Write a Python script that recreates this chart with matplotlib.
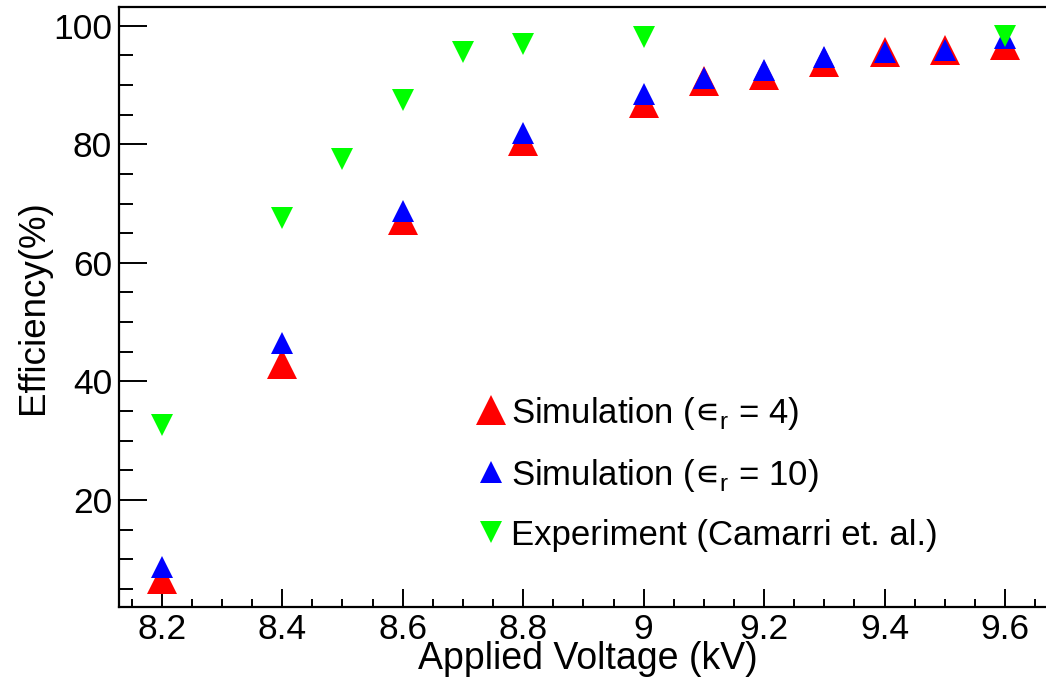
import numpy as np
import matplotlib
matplotlib.use('Agg')
import matplotlib.pyplot as plt
from matplotlib.ticker import MultipleLocator

plt.rcParams['font.family'] = ['Liberation Sans', 'DejaVu Sans']
plt.rcParams['mathtext.fontset'] = 'dejavusans'

# 模拟数据 (eps_r = 4, eps_r = 10) 与实验数据
v_sim = [8.2, 8.4, 8.6, 8.8, 9.0, 9.1, 9.2, 9.3, 9.4, 9.5, 9.6]
eff_sim4 = [6.6, 43.0, 67.2, 80.5, 87.0, 90.6, 91.7, 93.9, 95.6, 95.9, 96.8]
eff_sim10 = [8.7, 46.5, 68.8, 81.9, 88.4, 91.2, 92.6, 94.7, 95.6, 95.9, 98.0]

v_exp = [8.2, 8.4, 8.5, 8.6, 8.7, 8.8, 9.0, 9.6]
eff_exp = [32.6, 67.6, 77.5, 87.4, 95.6, 96.9, 98.1, 98.2]

labels = ['Simulation (${\u220a}_\\mathregular{r}$ = 4)',
          'Simulation (${\u220a}_\\mathregular{r}$ = 10)',
          'Experiment (Camarri et. al.)']

fig = plt.figure(figsize=(10.46, 6.81), dpi=100)
ax = fig.add_axes([119/1046, 1 - 607.3/681, 927/1046, 600.3/681])

ax.plot(v_sim, eff_sim4, '^', color='#ff0000', markersize=22.3, markeredgewidth=0, label=labels[0])
ax.plot(v_sim, eff_sim10, '^', color='#0000ff', markersize=16.5, markeredgewidth=0, label=labels[1])
ax.plot(v_exp, eff_exp, 'v', color='#00ff00', markersize=16.5, markeredgewidth=0, label=labels[2])

ax.set_xlim(8.129, 9.668)
ax.set_ylim(1.9, 103.15)

ax.xaxis.set_minor_locator(MultipleLocator(0.05))
ax.yaxis.set_minor_locator(MultipleLocator(5))
ax.set_xticks([8.2, 8.4, 8.6, 8.8, 9.0, 9.2, 9.4, 9.6])
ax.set_xticklabels(['8.2', '8.4', '8.6', '8.8', '9', '9.2', '9.4', '9.6'])
ax.set_yticks([20, 40, 60, 80, 100])

ax.tick_params(axis='both', which='both', direction='in', top=False, right=False, width=1.4)
ax.tick_params(axis='y', which='major', length=20, pad=5, labelsize=25.5)
ax.tick_params(axis='y', which='minor', length=10)
ax.tick_params(axis='x', which='major', length=12.7, pad=4, labelsize=25.5)
ax.tick_params(axis='x', which='minor', length=6)

for s in ['left', 'bottom', 'top']:
    ax.spines[s].set_linewidth(1.6)
ax.spines['right'].set_visible(False)

ax.set_xlabel('Applied Voltage (kV)', fontsize=27)
ax.set_ylabel('Efficiency(%)', fontsize=26.5)
ax.xaxis.set_label_coords(0.506, -0.056)
ax.yaxis.set_label_coords(-0.0734, 0.5)

leg = ax.legend(loc='center left', bbox_to_anchor=(474/1046, 1 - 473/681),
                bbox_transform=fig.transFigure, frameon=False, fontsize=25,
                handlelength=1.0, handletextpad=0.07, labelspacing=0.72,
                borderpad=0, borderaxespad=0)

fig.savefig('out.png', dpi=100)
